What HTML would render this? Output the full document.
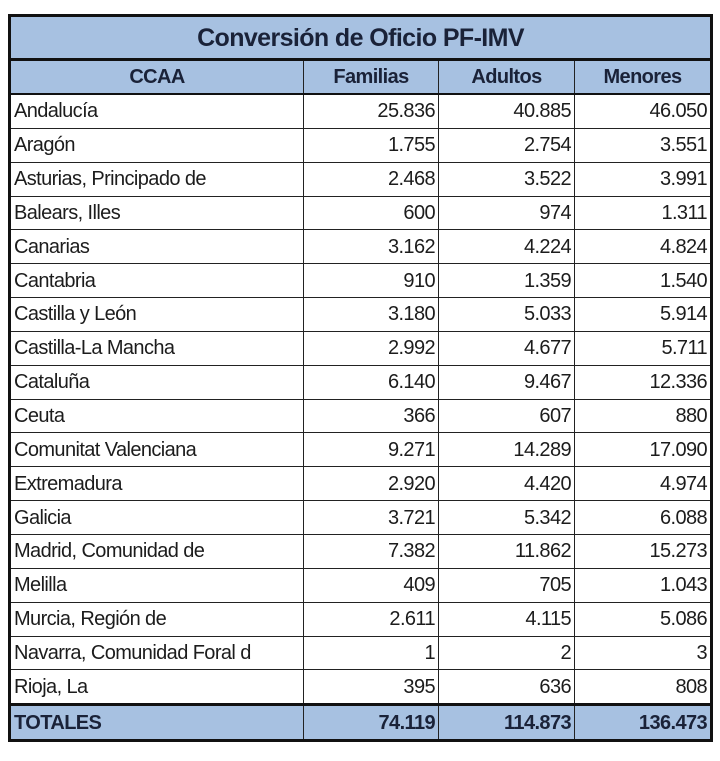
<!DOCTYPE html>
<html><head><meta charset="utf-8"><style>
body{margin:0;background:#fff;width:720px;height:761px;overflow:hidden}
table{position:absolute;left:8px;top:14px;border-collapse:collapse;table-layout:fixed;width:702px;font-family:"Liberation Sans",sans-serif;font-size:20px;color:#1c1c1c;letter-spacing:-0.6px}
td{border:1px solid #222;height:32.85px;padding:0 3px;white-space:nowrap;overflow:hidden;line-height:32px}
td.n{text-align:right}
tr.t td{background:#a7c1e1;font-weight:bold;font-size:25px;text-align:center;height:41px;border:3px solid #111;color:#1a2238}
tr.h td{background:#a7c1e1;font-weight:bold;text-align:center;height:31px;border-bottom:2px solid #111;color:#1a2238}
tr.f td{background:#a7c1e1;font-weight:bold;height:33px;border-top:3px solid #111;color:#1a2238}
</style></head><body>
<table style="border:3px solid #111">
<colgroup><col style="width:294px"><col style="width:135px"><col style="width:136px"><col style="width:137px"></colgroup>
<tr class="t"><td colspan="4">Conversión de Oficio PF-IMV</td></tr>
<tr class="h"><td>CCAA</td><td>Familias</td><td>Adultos</td><td>Menores</td></tr>
<tr><td>Andalucía</td><td class="n">25.836</td><td class="n">40.885</td><td class="n">46.050</td></tr>
<tr><td>Aragón</td><td class="n">1.755</td><td class="n">2.754</td><td class="n">3.551</td></tr>
<tr><td>Asturias, Principado de</td><td class="n">2.468</td><td class="n">3.522</td><td class="n">3.991</td></tr>
<tr><td>Balears, Illes</td><td class="n">600</td><td class="n">974</td><td class="n">1.311</td></tr>
<tr><td>Canarias</td><td class="n">3.162</td><td class="n">4.224</td><td class="n">4.824</td></tr>
<tr><td>Cantabria</td><td class="n">910</td><td class="n">1.359</td><td class="n">1.540</td></tr>
<tr><td>Castilla y León</td><td class="n">3.180</td><td class="n">5.033</td><td class="n">5.914</td></tr>
<tr><td>Castilla-La Mancha</td><td class="n">2.992</td><td class="n">4.677</td><td class="n">5.711</td></tr>
<tr><td>Cataluña</td><td class="n">6.140</td><td class="n">9.467</td><td class="n">12.336</td></tr>
<tr><td>Ceuta</td><td class="n">366</td><td class="n">607</td><td class="n">880</td></tr>
<tr><td>Comunitat Valenciana</td><td class="n">9.271</td><td class="n">14.289</td><td class="n">17.090</td></tr>
<tr><td>Extremadura</td><td class="n">2.920</td><td class="n">4.420</td><td class="n">4.974</td></tr>
<tr><td>Galicia</td><td class="n">3.721</td><td class="n">5.342</td><td class="n">6.088</td></tr>
<tr><td>Madrid, Comunidad de</td><td class="n">7.382</td><td class="n">11.862</td><td class="n">15.273</td></tr>
<tr><td>Melilla</td><td class="n">409</td><td class="n">705</td><td class="n">1.043</td></tr>
<tr><td>Murcia, Región de</td><td class="n">2.611</td><td class="n">4.115</td><td class="n">5.086</td></tr>
<tr><td>Navarra, Comunidad Foral d</td><td class="n">1</td><td class="n">2</td><td class="n">3</td></tr>
<tr><td>Rioja, La</td><td class="n">395</td><td class="n">636</td><td class="n">808</td></tr>
<tr class="f"><td>TOTALES</td><td class="n">74.119</td><td class="n">114.873</td><td class="n">136.473</td></tr>
</table>
</body></html>
